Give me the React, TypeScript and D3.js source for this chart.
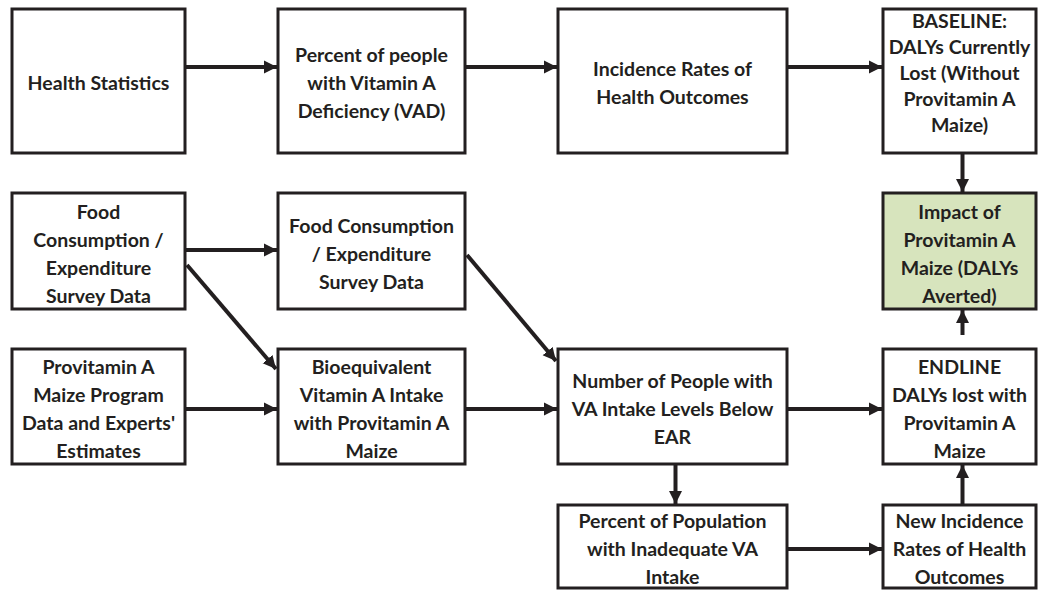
import React from "react";
import * as d3 from "d3";

// Node labels (text lines)
const nodeIds = ["health", "vad", "incid", "baseline", "food1", "food2", "impact", "prog", "bioeq", "number", "endline", "pctpop", "newincid"];
const nodeLines: string[][] = [
  ["Health Statistics"],
  ["Percent of people", "with Vitamin A", "Deficiency (VAD)"],
  ["Incidence Rates of", "Health Outcomes"],
  ["BASELINE:", "DALYs Currently", "Lost (Without", "Provitamin A", "Maize)"],
  ["Food", "Consumption /", "Expenditure", "Survey Data"],
  ["Food Consumption", "/ Expenditure", "Survey Data"],
  ["Impact of", "Provitamin A", "Maize (DALYs", "Averted)"],
  ["Provitamin A", "Maize Program", "Data and Experts'", "Estimates"],
  ["Bioequivalent", "Vitamin A Intake", "with Provitamin A", "Maize"],
  ["Number of People with", "VA Intake Levels Below", "EAR"],
  ["ENDLINE", "DALYs lost with", "Provitamin A", "Maize"],
  ["Percent of Population", "with Inadequate VA", "Intake"],
  ["New Incidence", "Rates of Health", "Outcomes"],
];
const highlighted = ["impact"];

// Edges: from -> to
const edgeFrom = ["health", "vad", "incid", "baseline", "food1", "food1", "food2", "prog", "bioeq", "number", "number", "pctpop", "newincid", "endline"];
const edgeTo = ["vad", "incid", "baseline", "impact", "food2", "bioeq", "number", "bioeq", "number", "endline", "pctpop", "newincid", "endline", "impact"];

// ---- layout (positions kept separate from data) ----
const colX: [number, number][] = [[12, 185], [278, 465], [558, 787], [883, 1036]];
const rowY: [number, number][] = [[9, 153], [193, 309], [349, 464], [505, 588]];
const nodeCell: Record<string, [number, number]> = {
  health: [0, 0], vad: [1, 0], incid: [2, 0], baseline: [3, 0],
  food1: [0, 1], food2: [1, 1], impact: [3, 1],
  prog: [0, 2], bioeq: [1, 2], number: [2, 2], endline: [3, 2],
  pctpop: [2, 3], newincid: [3, 3],
};
const textCenterY: Record<string, number> = { baseline: 72, health: 82, vad: 82, incid: 82 };
const lineGap: Record<string, number> = { baseline: 26 };
const rowArrowY = [67, 250, 409, 549];

type Box = { id: string; x0: number; x1: number; y0: number; y1: number; lines: string[] };

export default function App() {
  const W = 1039, H = 590;
  const boxes: Box[] = nodeIds.map((id, i) => {
    const [c, r] = nodeCell[id];
    const [x0, x1] = colX[c];
    const [y0, y1] = rowY[r];
    return { id, x0, x1, y0, y1, lines: nodeLines[i] };
  });
  const byId = new Map(boxes.map((b) => [b.id, b]));
  const line = d3.line<[number, number]>();

  const arrows = edgeFrom.map((f, i) => {
    const a = byId.get(f)!;
    const b = byId.get(edgeTo[i])!;
    const ca = nodeCell[f], cb = nodeCell[edgeTo[i]];
    let pts: [number, number][];
    if (ca[1] === cb[1]) {
      const y = rowArrowY[ca[1]];
      pts = [[a.x1 + 1, y], [b.x0 - 1, y]];
    } else if (ca[0] === cb[0]) {
      const x = (b.x0 + b.x1) / 2 + 3;
      if (cb[1] > ca[1]) pts = [[x, a.y1 + 1], [x, b.y0 - 1]];
      else {
        const start = f === "endline" ? a.y0 - 14 : a.y0 - 1;
        pts = [[x, start], [x, b.y1 + 1]];
      }
    } else {
      // diagonal
      const sy = (a.y0 + a.y1) / 2 + (f === "food1" ? 14 : 4);
      pts = [[a.x1 + 2, sy], [b.x0 - 2, b.y0 + (edgeTo[i] === "bioeq" ? 20 : 12)]];
    }
    return pts;
  });

  const color = "#231f20";
  return (
    <svg width={W} height={H} style={{ position: "absolute", left: 0, top: 0, background: "#fff" }}>
      <defs>
        <marker id="ah" markerUnits="userSpaceOnUse" markerWidth={14} markerHeight={14} viewBox="0 0 14 14" refX={13} refY={7} orient="auto">
          <path d="M0,0.5 L13,7 L0,13.5 Z" fill={color} />
        </marker>
      </defs>
      {arrows.map((p, i) => (
        <path key={i} d={line(p) || ""} stroke={color} strokeWidth={4} fill="none" markerEnd="url(#ah)" />
      ))}
      {boxes.map((b) => {
        const gap = lineGap[b.id] || 28;
        const cy = textCenterY[b.id] ?? (b.y0 + b.y1) / 2 + 2;
        const n = b.lines.length;
        return (
          <g key={b.id}>
            <rect x={b.x0} y={b.y0} width={b.x1 - b.x0} height={b.y1 - b.y0}
              fill={highlighted.includes(b.id) ? "#d7e4bd" : "#fff"} stroke={color} strokeWidth={3} />
            {b.lines.map((t, j) => (
              <text key={j} x={(b.x0 + b.x1) / 2} y={cy + (j - (n - 1) / 2) * gap}
                textAnchor="middle" dominantBaseline="central"
                fontFamily="Lato, 'Open Sans', sans-serif" fontWeight={700} fontSize={19.5} fill={color}>
                {t}
              </text>
            ))}
          </g>
        );
      })}
    </svg>
  );
}
